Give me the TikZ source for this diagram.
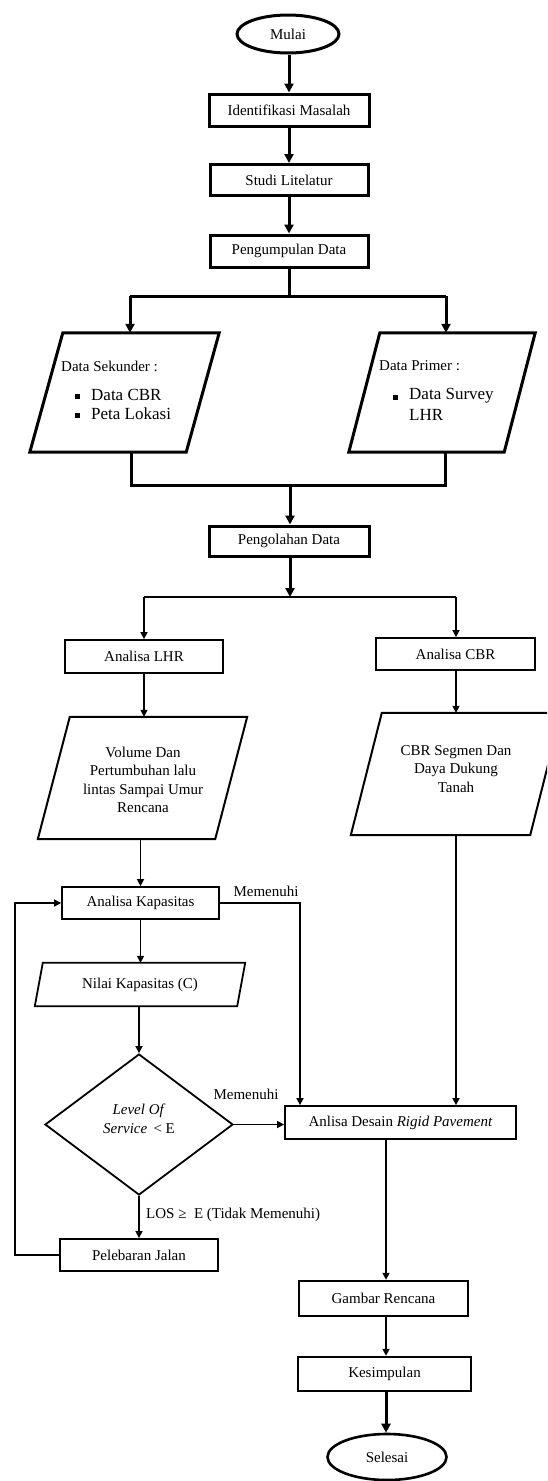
\documentclass[tikz,border=0pt]{standalone}
\usepackage{fontspec}
\setmainfont{Liberation Serif}
\usetikzlibrary{arrows.meta,shapes.geometric,calc}
\newcommand{\parashape}[3]{%
  \draw[line width=#3] (#1.south west) -- ([xshift=#2]#1.north west) -- (#1.north east) -- ([xshift=-#2]#1.south east) -- cycle;}
\begin{document}
\begin{tikzpicture}[x=1pt,y=-1pt,
  every node/.style={font=\fontsize{15}{18.5}\selectfont, inner sep=0pt},
  bignode/.style={font=\fontsize{17}{20}\selectfont},
  tbox/.style={draw, rectangle, line width=3pt},
  mbox/.style={draw, rectangle, line width=1.8pt},
  gbox/.style={draw, rectangle, line width=2.5pt},
  ell/.style={draw, ellipse, line width=3pt},
  tline/.style={line width=3pt},
  tarr/.style={line width=3pt, -{Triangle[length=9pt,width=9pt]}},
  mline/.style={line width=1.5pt},
  marr/.style={line width=1.5pt, -{Triangle[length=7pt,width=7pt]}},
  garr/.style={line width=2.4pt, -{Triangle[length=7pt,width=7pt]}}
]
\useasboundingbox (0,0) rectangle (547,1481);
\clip (0,0) rectangle (547,1481);

% top column
\node[ell, minimum width=102pt, minimum height=38pt] (mulai) at (288,34) {Mulai};
\node[tbox, minimum width=160pt, minimum height=32pt] (ident) at (289,110) {Identifikasi Masalah};
\node[tbox, minimum width=158pt, minimum height=31pt] (studi) at (289,180) {Studi Litelatur};
\node[tbox, minimum width=158pt, minimum height=32pt] (kumpul) at (289,251) {Pengumpulan Data};
\draw[tarr] (mulai.south -| ident.north) -- (ident.north);
\draw[tarr] (ident.south) -- (studi.north);
\draw[tarr] (studi.south) -- (kumpul.north);

% data parallelograms
\node[minimum width=189pt, minimum height=119pt] (sek) at (124.5,392.5) {};
\node[minimum width=186pt, minimum height=119pt] (prim) at (442,392.5) {};
\parashape{sek}{33pt}{3pt}
\parashape{prim}{31pt}{3pt}
\node[anchor=west] (sekT) at (61,366) {Data Sekunder :};
\node (sekB1) at (77,396) {\rule{5pt}{5pt}};
\node (sekB2) at (77,415) {\rule{5pt}{5pt}};
\node[bignode, anchor=west] (sek1) at (91,395) {Data CBR};
\node[bignode, anchor=west] (sek2) at (91,414) {Peta Lokasi};
\node[anchor=west] (primT) at (379,366) {Data Primer :};
\node (primB1) at (395,397) {\rule{5pt}{5pt}};
\node[bignode, anchor=west] (prim1) at (409,396) {Data Survey};
\node[bignode, anchor=west] (prim2) at (409,415) {LHR};

\coordinate (s1) at (289,296);
\coordinate (s1L) at (130,296);
\coordinate (s1R) at (446,296);
\draw[tline] (kumpul.south) -- (s1);
\draw[tline] (s1L) -- (s1R);
\draw[tarr] (s1L) -- (s1L |- sek.north);
\draw[tarr] (s1R) -- (s1R |- prim.north);

\node[tbox, minimum width=160pt, minimum height=30pt] (olah) at (289,541) {Pengolahan Data};
\coordinate (m1) at (290,485);
\coordinate (m1L) at (131,485);
\coordinate (m1R) at (445,485);
\draw[tline] (m1L |- sek.south) -- (m1L) -- (m1R) -- (m1R |- prim.south);
\draw[tarr] (m1) -- (m1 |- olah.north);

% analysis split
\coordinate (s2) at (290,597);
\coordinate (s2L) at (144,597);
\coordinate (s2R) at (456,597);
\draw[tarr] (olah.south -| s2) -- (s2);
\draw[mline] (s2L) -- (s2R);
\node[mbox, minimum width=158pt, minimum height=33pt] (lhr) at (144,656.5) {Analisa LHR};
\node[mbox, minimum width=159pt, minimum height=32pt] (cbr) at (455.5,654) {Analisa CBR};
\draw[marr] (s2L) -- (s2L |- lhr.north);
\draw[marr] (s2R) -- (s2R |- cbr.north);

\node[minimum width=209pt, minimum height=122pt] (vol) at (142.5,778) {};
\parashape{vol}{32pt}{2pt}
\node[align=center] (volT) at (143,780) {Volume Dan\\Pertumbuhan lalu\\lintas Sampai Umur\\Rencana};
\node[minimum width=210pt, minimum height=122pt] (seg) at (456,774) {};
\parashape{seg}{31pt}{2pt}
\node[align=center] (segT) at (456,769) {CBR Segmen Dan\\Daya Dukung\\Tanah};
\draw[marr] (lhr.south) -- (lhr.south |- vol.north);
\draw[marr] (s2R |- cbr.south) -- (s2R |- seg.north);

% capacity loop
\node[mbox, minimum width=157pt, minimum height=32pt] (kap) at (140.5,903) {Analisa Kapasitas};
\draw[marr] (vol.south -| kap.north) -- (kap.north);
\node[minimum width=210pt, minimum height=43pt] (nilai) at (140,984.5) {Nilai Kapasitas (C)};
\parashape{nilai}{8pt}{1.8pt}
\draw[marr] (kap.south) -- (kap.south |- nilai.north);
\node[draw, diamond, line width=1.8pt, minimum width=188pt, minimum height=141pt] (los) at (139,1124.5) {};
\node[align=center] (losT) at (139,1119) {\textit{Level Of}\\\textit{Service}\, {<} E};
\draw[marr] (nilai.south -| los.north) -- (los.north);

\node[mbox, minimum width=231pt, minimum height=33pt] (desain) at (400.5,1122.5) {Anlisa Desain \textit{Rigid Pavement}};
\draw[marr] (los.east) -- (los.east -| desain.west);
\node (mem2) at (246,1094) {Memenuhi};
\coordinate (memx) at (300,903);
\draw[marr] (kap.east) -- (memx) -- (memx |- desain.north);
\node (mem1) at (266,891) {Memenuhi};
\draw[marr] (seg.south) -- (seg.south |- desain.north);

\node[mbox, minimum width=158pt, minimum height=32pt] (lebar) at (139,1255) {Pelebaran Jalan};
\draw[marr] (los.south) -- (lebar.north);
\node[anchor=west] (losL) at (146,1215) {LOS ≥\ \ E (Tidak Memenuhi)};
\coordinate (lp) at (15,903);
\draw[marr] (lebar.west) -- (lebar.west -| lp) -- (lp) -- (kap.west);

% final column
\coordinate (cx) at (386,0);
\node[gbox, minimum width=169pt, minimum height=35pt] (gambar) at (383.5,1298.5) {Gambar Rencana};
\node[gbox, minimum width=173pt, minimum height=34pt] (simpul) at (384.5,1374) {Kesimpulan};
\node[ell, line width=2.6pt, minimum width=119pt, minimum height=46pt] (selesai) at (387,1457) {Selesai};
\draw[marr] (desain.south -| cx) -- (cx |- gambar.north);
\draw[garr] (gambar.south -| cx) -- (cx |- simpul.north);
\draw[tarr] (simpul.south -| cx) -- (cx |- selesai.north);
\end{tikzpicture}
\end{document}
